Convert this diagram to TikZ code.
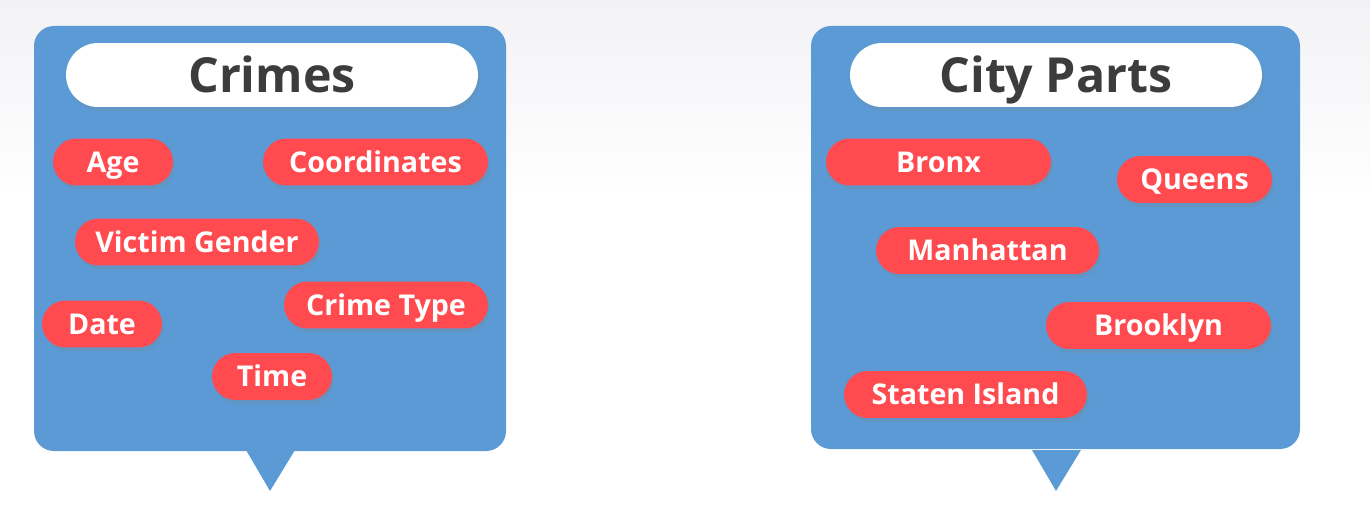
\documentclass[tikz,border=0pt]{standalone}
\usepackage{fontspec}
\setmainfont{Open Sans}
\usepackage{tikz}
\usetikzlibrary{shadows}

\definecolor{panelblue}{HTML}{5B9AD4}
\definecolor{tagred}{HTML}{FF4B4F}
\definecolor{titlegray}{HTML}{3C3C3C}
\definecolor{topgray}{HTML}{F2F2F6}

\begin{document}
\begin{tikzpicture}[y=-0.02cm,x=0.02cm,
	panel/.style={fill=panelblue, rounded corners=0.4cm},
	heading/.style={fill=white, minimum width=8.24cm, minimum height=1.28cm, rounded corners=0.64cm,
		text=titlegray, font=\fontsize{27.5}{30}\selectfont\bfseries, text height=19.6pt, text depth=0pt,
		drop shadow={shadow xshift=0.04cm, shadow yshift=-0.08cm, opacity=0.18}},
	tag/.style={fill=tagred, minimum height=0.94cm, rounded corners=0.47cm, inner sep=0pt,
		text=white, font=\fontsize{16.3}{19}\selectfont\bfseries, text height=11.6pt, text depth=0pt,
		drop shadow={shadow xshift=0.04cm, shadow yshift=-0.08cm, opacity=0.18}}]
	\newcommand\Pointer[1]{(#1-24,450) -- (#1,491) -- (#1+25,450) -- cycle}

	\useasboundingbox (0,0) rectangle (1370,510);
	\shade[top color=topgray, bottom color=white] (0,0) rectangle (1370,200);

	% crimes
	\fill[panel] (34,26) rectangle (506,451);
	\fill[panelblue] \Pointer{270};
	\node[heading] (crimes) at (272,75) {Crimes};
	\node[tag, minimum width=2.4cm] (age) at (113,162) {Age};
	\node[tag, minimum width=4.5cm] (coords) at (375.5,162) {Coordinates};
	\node[tag, minimum width=4.88cm] (gender) at (197,242) {Victim Gender};
	\node[tag, minimum width=4.08cm] (type) at (386,305) {Crime Type};
	\node[tag, minimum width=2.4cm] (date) at (102,324) {Date};
	\node[tag, minimum width=2.4cm] (time) at (272,376.5) {Time};

	% city parts
	\fill[panel] (811,26) rectangle (1300,449);
	\fill[panelblue] \Pointer{1056};
	\node[heading] (parts) at (1056,75) {City Parts};
	\node[tag, minimum width=4.5cm] (bronx) at (938.5,162) {Bronx};
	\node[tag, minimum width=3.1cm] (queens) at (1194.5,179.5) {Queens};
	\node[tag, minimum width=4.46cm] (manhattan) at (987.5,250.5) {Manhattan};
	\node[tag, minimum width=4.5cm] (brooklyn) at (1158.5,325.5) {Brooklyn};
	\node[tag, minimum width=4.86cm] (staten) at (965.5,394.5) {Staten Island};
\end{tikzpicture}
\end{document}
